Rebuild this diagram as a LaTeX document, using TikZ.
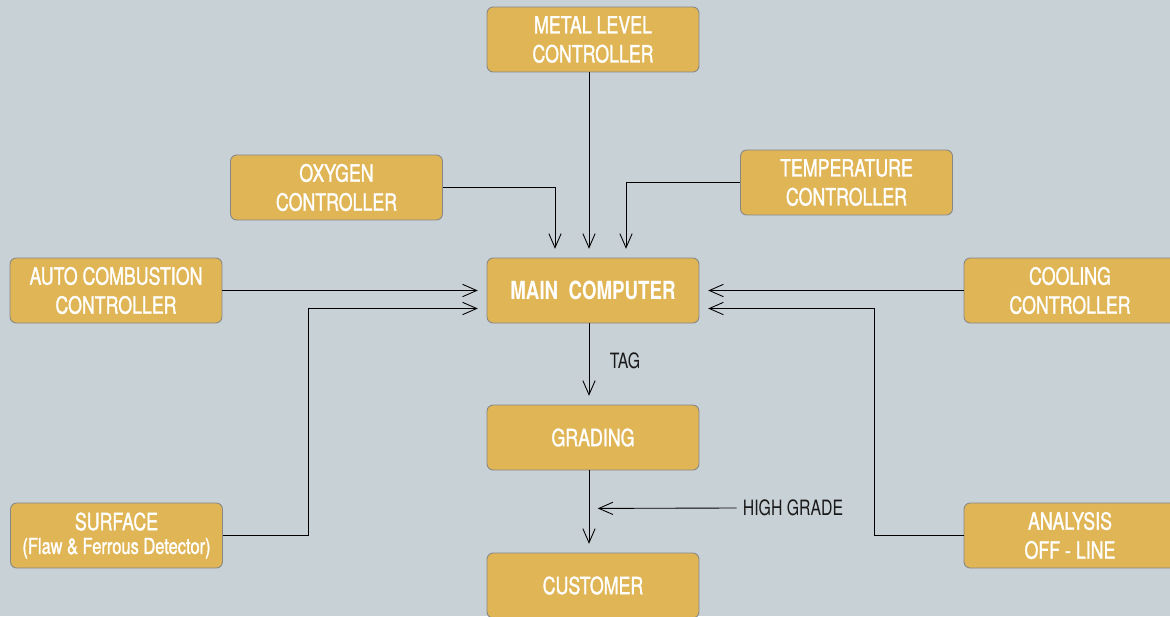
\documentclass[tikz,border=0pt]{standalone}
\usepackage{fontspec}
\setmainfont{TeX Gyre Heros}[FakeStretch=0.75]
\newfontfamily\boxfont{TeX Gyre Heros}[FakeStretch=0.75,FakeBold=1.2]
\usetikzlibrary{calc,arrows.meta}
\definecolor{bgcol}{RGB}{200,209,214}
\definecolor{boxcol}{RGB}{224,181,86}
\definecolor{edgecol}{RGB}{135,135,135}

\begin{document}
\begin{tikzpicture}[x=0.02cm,y=-0.02cm,
  box/.style={draw=edgecol,fill=boxcol,rounded corners=3.5pt,line width=0.5pt,
    minimum width=4.24cm,minimum height=1.3cm,align=center,text=white,
    font=\boxfont\fontsize{13.5}{16.5}\selectfont},
  lbl/.style={text=black!90,font=\fontsize{12}{14}\selectfont},
  arr/.style={-{Straight Barb[length=8pt,width=7pt]},line width=0.5pt,shorten >=5pt}]

\fill[bgcol] (0,0) rectangle (1170,616);
\useasboundingbox (0,0) rectangle (1170,616);

\node[box] (metal) at (593,39.5) {METAL LEVEL\\CONTROLLER};
\node[box] (oxy) at (336.5,187.5) {OXYGEN\\CONTROLLER};
\node[box] (temp) at (846.5,182.5) {TEMPERATURE\\CONTROLLER};
\node[box] (auto) at (116,290.5) {AUTO COMBUSTION\\CONTROLLER};
\node[box,font=\bfseries\fontsize{14.2}{17}\selectfont] (main) at (593,290.5) {MAIN\ \ COMPUTER};
\node[box] (cool) at (1070,290.5) {COOLING\\CONTROLLER};
\node[box] (grad) at (593,437.5) {GRADING};
\node[box] (surf) at (116.5,535.5) {SURFACE\\[-3pt]{\fontsize{12.5}{14}\selectfont(Flaw \& Ferrous Detector)}};
\node[box] (ana) at (1070,535.5) {ANALYSIS\\OFF - LINE};
\node[box] (cust) at (593,585.5) {CUSTOMER};

\node[lbl] (tag) at (625,361) {TAG};
\node[lbl] (high) at (793,508) {HIGH GRADE};

% inputs to the main computer
\draw[arr] ($(metal.south)+(-4,0)$) -- ($(main.north)+(-4,0)$);
\draw[arr] (oxy.east) -| ($(main.north)+(-38,0)$);
\draw[arr] (temp.west) -| ($(main.north)+(33,0)$);
\draw[arr] (auto.east) -- (main.west);
\draw[arr] (surf.east) -- ++(86,0) |- ($(main.west)+(0,18)$);
\draw[arr] (cool.west) -- (main.east);
\draw[arr] (ana.west) -- ++(-89,0) |- ($(main.east)+(0,18)$);

% output chain
\draw[arr] ($(main.south)+(-4,0)$) -- ($(grad.north)+(-4,0)$);
\draw[arr] ($(grad.south)+(-4,0)$) -- ($(cust.north)+(-4,0)$);
\draw[arr] (high.west) -- ($(grad.south)+(-4,38)$);

\end{tikzpicture}
\end{document}
